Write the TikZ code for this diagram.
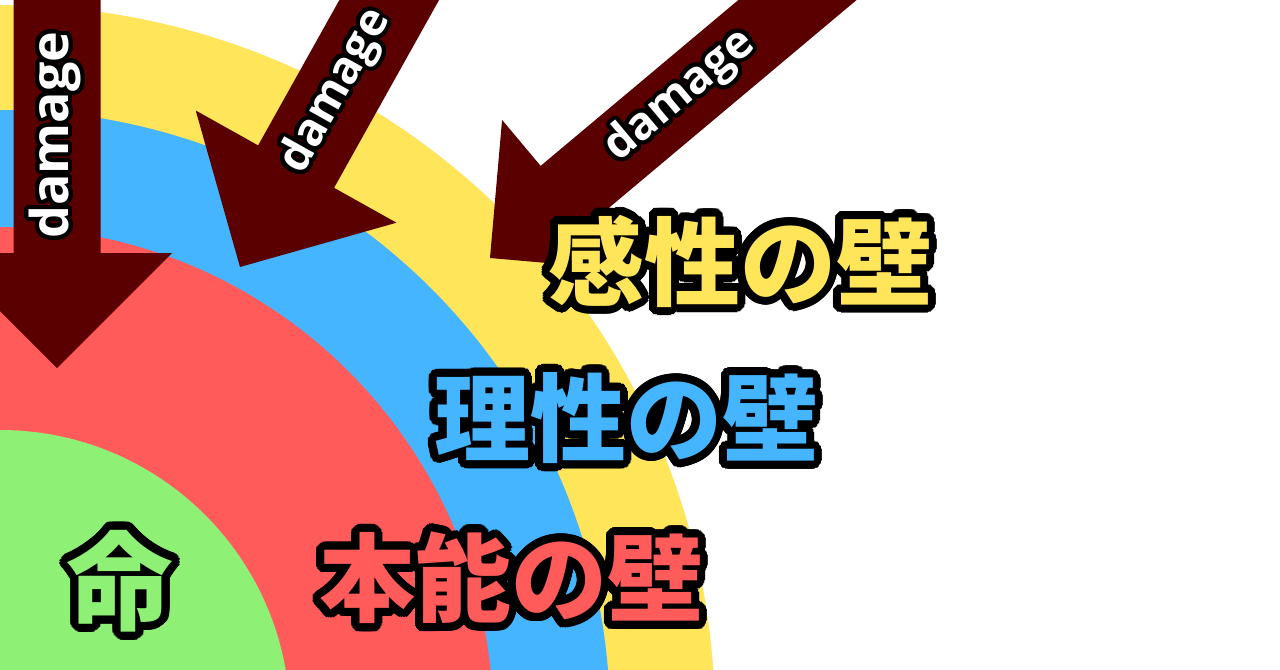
\documentclass[tikz,border=0pt]{standalone}
\usepackage{fontspec}
\setmainfont{Open Sans}
\newfontfamily\jpfont{Noto Sans CJK JP}
\usepackage{contour}
\contournumber{32}
\definecolor{wallyellow}{RGB}{255,229,90}
\definecolor{wallblue}{RGB}{69,181,255}
\definecolor{wallred}{RGB}{255,91,91}
\definecolor{lifegreen}{RGB}{142,240,117}
\definecolor{dmgred}{RGB}{90,0,0}

\tikzset{every picture/.style={line width=0.75pt},
  wall/.style={inner sep=0pt, font=\jpfont\bfseries\fontsize{72}{72}\selectfont\contourlength{6pt}},
  dmg/.style={inner sep=0pt, text=white, font=\bfseries\fontsize{34}{34}\selectfont\contourlength{3pt}}}

\begin{document}
\begin{tikzpicture}[x=0.75pt,y=0.75pt,yscale=-1,xscale=1]
\useasboundingbox (0,0) rectangle (1280,670);
\clip (0,0) rectangle (1280,670);
\fill [white] (0,0) rectangle (1280,670);

%Shape: Circle [yellow wall]
\fill [wallyellow] (0,720) circle (715);
%Shape: Circle [blue wall]
\fill [wallblue] (0,720) circle (610);
%Shape: Circle [red wall]
\fill [wallred] (0,720) circle (493);
%Shape: Circle [life]
\fill [lifegreen] (0,720) circle (290);

%Shape: Arrow [down]
\begin{scope}[shift={(57,368)}, rotate=90]
\fill [dmgred] (0,0) -- (-115,-115) -- (-115,-43.5) -- (-420,-43.5) -- (-420,43.5) -- (-115,43.5) -- (-115,115) -- cycle;
\node [dmg, rotate=90, font=\bfseries\fontsize{39}{39}\selectfont\contourlength{3pt}] (dmgA) at (-233,0) {\contour{black}{damage}};
\end{scope}
%Shape: Arrow [middle]
\begin{scope}[shift={(240,267)}, rotate=119.2]
\fill [dmgred] (0,0) -- (-115,-115) -- (-115,-43.5) -- (-380,-43.5) -- (-380,43.5) -- (-115,43.5) -- (-115,115) -- cycle;
\node [dmg, rotate=60.8] (dmgB) at (-200,0) {\contour{black}{damage}};
\end{scope}
%Shape: Arrow [right]
\begin{scope}[shift={(490,258)}, rotate=140]
\fill [dmgred] (0,0) -- (-98,-98) -- (-98,-38) -- (-480,-38) -- (-480,38) -- (-98,38) -- (-98,98) -- cycle;
\node [dmg, rotate=40] (dmgC) at (-250,0) {\contour{black}{damage}};
\end{scope}

% Text Node
\node [wall, text=wallyellow] (kansei) at (740,265) {\contour{black}{感性の壁}};
% Text Node
\node [wall, text=wallblue] (risei) at (626,422) {\contour{black}{理性の壁}};
% Text Node
\node [wall, text=wallred] (honnou) at (511,582) {\contour{black}{本能の壁}};
% Text Node
\node [wall, text=lifegreen, font=\jpfont\bfseries\fontsize{80}{80}\selectfont\contourlength{6pt}] (inochi) at (120,585) {\contour{black}{命}};

\end{tikzpicture}
\end{document}
